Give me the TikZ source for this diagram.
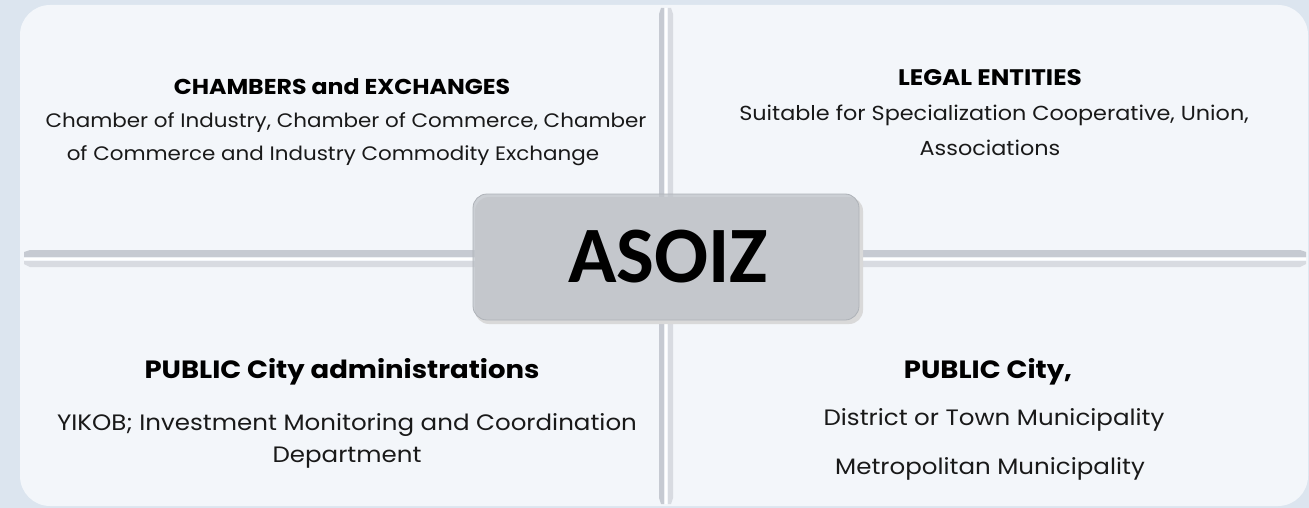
\documentclass[tikz,border=0pt]{standalone}
\usepackage{fontspec}
\setmainfont{Poppins}[FakeStretch=1.1]
\newfontfamily\corefont{Carlito}
\definecolor{bg}{HTML}{DCE5EF}
\definecolor{panel}{HTML}{F3F6FA}
\definecolor{groove}{HTML}{C6CAD2}
\definecolor{groovelt}{HTML}{D8DBE1}
\definecolor{boxfill}{HTML}{BEC2C8}
\definecolor{boxedge}{HTML}{AEB2B8}
\tikzset{
  head/.style={font=\bfseries\fontsize{#1}{#1}\selectfont, text=black, inner sep=0pt, anchor=center},
  body/.style={font=\fontsize{#1}{#1}\selectfont, text=black!90, inner sep=0pt, anchor=center},
}
\begin{document}
\begin{tikzpicture}[x=1pt,y=-1pt]
\useasboundingbox (0,0) rectangle (1309,508);
\fill[bg] (0,0) rectangle (1309,508);
\fill[panel, rounded corners=30pt] (20,5) rectangle (1308,506);
% dividers
\fill[groove] (24,252) -- (30,250) -- (1300,250) -- (1306,252) -- (1306,257) -- (24,257) -- cycle;
\fill[white] (24,258) rectangle (1306,260);
\fill[groovelt] (24,261) -- (1306,261) -- (1306,264) -- (1300,267) -- (30,267) -- (24,264) -- cycle;
\fill[groove] (659,14) -- (661,8) -- (664,8) -- (664,504) -- (661,504) -- (659,498) -- cycle;
\fill[white] (665,8) rectangle (667,504);
\fill[groovelt] (668,8) -- (671,8) -- (673,14) -- (673,498) -- (671,504) -- (668,504) -- cycle;
% centre box
\fill[black!15, rounded corners=14pt] (475,197) rectangle (863,324);
\node[draw=boxedge, line width=0.8pt, fill=boxfill, fill opacity=0.75, rounded corners=14pt,
      minimum width=386pt, minimum height=126pt, inner sep=0pt] (core) at (666,257) {};
\node[font=\corefont\bfseries\fontsize{80}{80}\selectfont, text=black, inner sep=0pt] (asoiz) at (668,257) {ASOIZ};
% top left
\node[head=21.5] (tlh) at (342,87) {CHAMBERS and EXCHANGES};
\node[body=19.5] (tl1) at (346,123) {Chamber of Industry, Chamber of Commerce, Chamber};
\node[body=19.5] (tl2) at (333,156) {of Commerce and Industry Commodity Exchange};
% top right
\node[head=22.5] (trh) at (990,78) {LEGAL ENTITIES};
\node[body=20.3] (tr1) at (994,115) {Suitable for Specialization Cooperative, Union,};
\node[body=20.3] (tr2) at (990,148) {Associations};
% bottom left
\node[head=25] (blh) at (342,372) {PUBLIC City administrations};
\node[body=22.3] (bl1) at (347,425) {YIKOB; Investment Monitoring and Coordination};
\node[body=22.3] (bl2) at (347,458) {Department};
% bottom right
\node[head=25] (brh) at (988,372) {PUBLIC City,};
\node[body=22.3] (br1) at (994,420) {District or Town Municipality};
\node[body=22.3] (br2) at (990,469) {Metropolitan Municipality};
\end{tikzpicture}
\end{document}
